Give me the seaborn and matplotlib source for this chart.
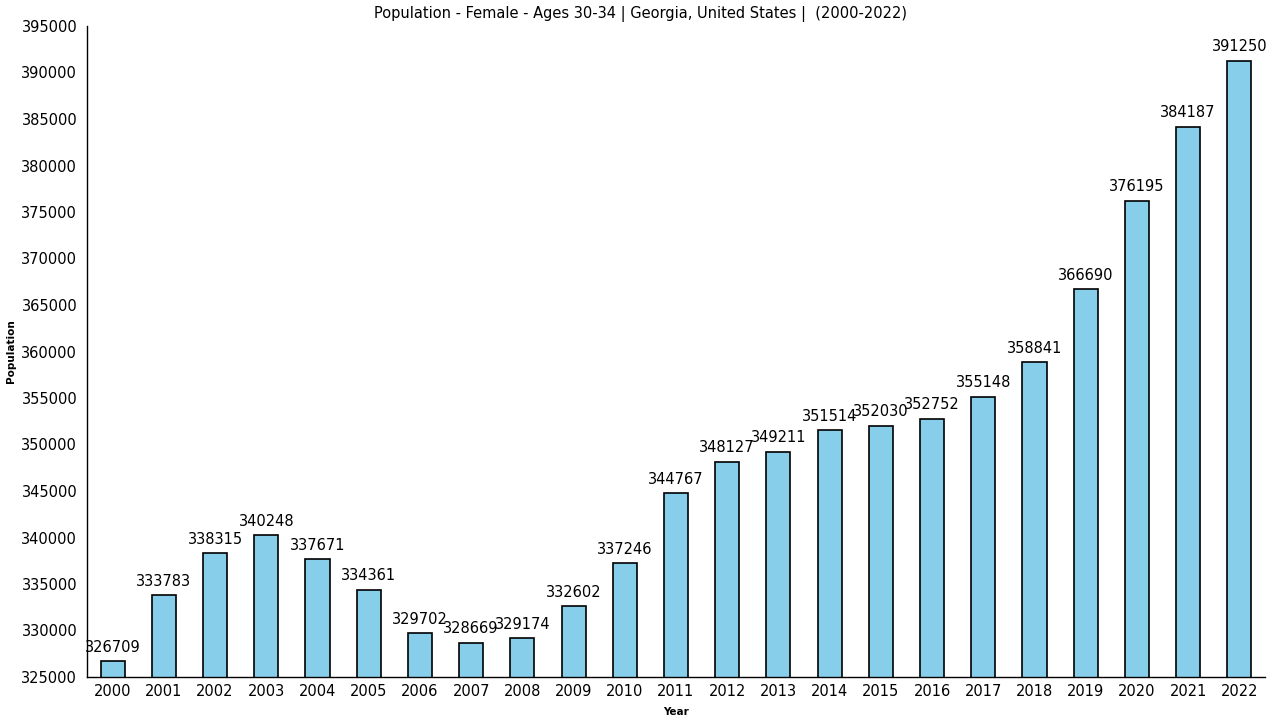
import matplotlib
matplotlib.use("Agg")
import matplotlib.pyplot as plt
import seaborn as sns
import pandas as pd
import numpy as np

years = [str(y) for y in range(2000, 2023)]
values = [326709, 333783, 338315, 340248, 337671, 334361, 329702, 328669, 329174,
          332602, 337246, 344767, 348127, 349211, 351514, 352030, 352752, 355148,
          358841, 366690, 376195, 384187, 391250]

sns.set_style("white")
plt.rcParams['font.family'] = ['DejaVu Sans']
plt.rcParams['text.color'] = 'black'
plt.rcParams['axes.labelcolor'] = 'black'
plt.rcParams['xtick.color'] = 'black'
plt.rcParams['ytick.color'] = 'black'

df = pd.DataFrame({"Year": years, "Population": values})
fig = plt.figure(figsize=(12.8, 7.2), dpi=100)
ax = fig.add_axes([87/1280, 1 - 677/720, (1265 - 87)/1280, (677 - 26)/720])
sns.barplot(data=df, x="Year", y="Population", color="#87CEEB", saturation=1,
            width=0.47, edgecolor="black", linewidth=1.2, ax=ax)
ax.set_ylim(325000, 395000)
ax.set_xlim(-0.5, 22.5)
ax.set_yticks(np.arange(325000, 395001, 5000))
ax.set_yticklabels([str(v) for v in range(325000, 395001, 5000)], fontsize=10.5)
ax.tick_params(axis='y', direction='inout', length=8, width=1, pad=3)
ax.tick_params(axis='x', length=0, labelsize=10.5, pad=5)
for s in ["top", "right"]:
    ax.spines[s].set_visible(False)
for s in ["left", "bottom"]:
    ax.spines[s].set_color("black")
    ax.spines[s].set_linewidth(1)
for i, v in enumerate(values):
    ax.text(i, v + 700, str(v), ha="center", va="bottom", fontsize=10.5, color="black")
ax.set_xlabel("Year", fontsize=7.5, fontweight="bold", labelpad=6)
ax.set_ylabel("Population", fontsize=7.5, fontweight="bold")
ax.yaxis.set_label_coords(-71/1178, 0.5)
fig.text(0.5, 0.981, "Population - Female - Ages 30-34 | Georgia, United States |  (2000-2022)",
         ha="center", va="center", fontsize=10.5, color="black")
fig.savefig("out.png", dpi=100)
